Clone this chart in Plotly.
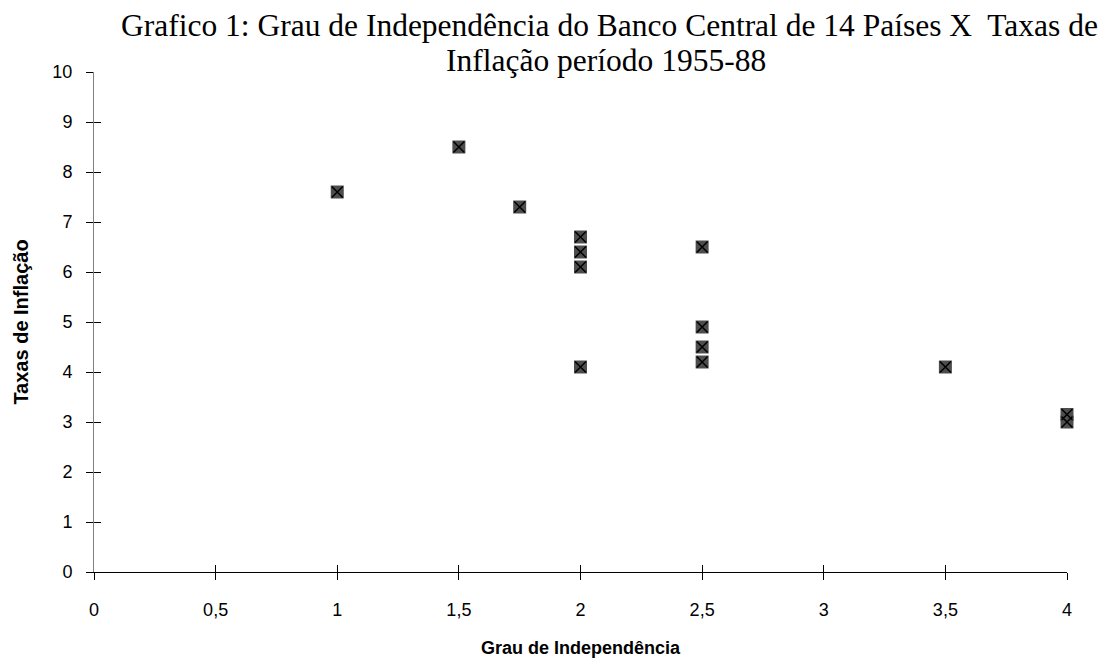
import plotly.graph_objects as go

# Data
grau_independencia = [1, 1.5, 1.75, 2, 2, 2, 2, 2.5, 2.5, 2.5, 2.5, 3.5, 4, 4]
taxas_inflacao = [7.6, 8.5, 7.3, 6.7, 6.4, 6.1, 4.1, 6.5, 4.9, 4.5, 4.2, 4.1, 3.15, 3.0]

x_ticks = [0, 0.5, 1, 1.5, 2, 2.5, 3, 3.5, 4]
x_tick_labels = ["0", "0,5", "1", "1,5", "2", "2,5", "3", "3,5", "4"]
y_ticks = list(range(0, 11))
y_tick_labels = [str(v) for v in y_ticks]

title_line1 = "Grafico 1: Grau de Independência do Banco Central de 14 Países X  Taxas de"
title_line2 = "Inflação período 1955-88"

fig = go.Figure()
fig.add_trace(go.Scatter(
    x=grau_independencia, y=taxas_inflacao, mode="markers",
    marker=dict(symbol="square", size=13, color="#4d4d4d", line=dict(width=0)),
    cliponaxis=False, showlegend=False, hoverinfo="skip"))
fig.add_trace(go.Scatter(
    x=grau_independencia, y=taxas_inflacao, mode="markers",
    marker=dict(symbol="x-thin", size=11, color="black", line=dict(width=1.5, color="black")),
    cliponaxis=False, showlegend=False))

axis_font = dict(family="Liberation Sans, Arial", size=18, color="black")
title_font = dict(family="Liberation Serif, Times New Roman", size=31.5, color="black")

# page body has an 8px margin, so the figure is laid out 8px smaller
fig.update_layout(
    width=1111, height=650,
    paper_bgcolor="white", plot_bgcolor="white",
    margin=dict(l=86, r=52, t=64, b=86),
    xaxis=dict(range=[0, 4], tickvals=x_ticks, ticktext=x_tick_labels, automargin=False,
               showgrid=False, zeroline=False, showline=True, linecolor="black", linewidth=1,
               ticks="outside", ticklen=7, tickcolor="black", tickwidth=1,
               ticklabelstandoff=14, tickfont=axis_font,
               title=dict(text="<b>Grau de Independência</b>", standoff=22,
                          font=dict(family="Liberation Sans, Arial", size=18, color="black"))),
    yaxis=dict(range=[0, 10], tickvals=y_ticks, ticktext=y_tick_labels, automargin=False,
               showgrid=False, zeroline=False, showline=True, linecolor="#808080", linewidth=1,
               ticks="outside", ticklen=7, tickcolor="black", tickwidth=1,
               ticklabelstandoff=10, tickfont=axis_font,
               title=dict(text="<b>Taxas de Inflação</b>", standoff=18,
                          font=dict(family="Liberation Sans, Arial", size=20, color="black"))),
    xaxis2=dict(overlaying="x", matches="x", range=[0, 4], tickvals=x_ticks, automargin=False,
                showticklabels=False, showgrid=False, zeroline=False, showline=False,
                ticks="inside", ticklen=7, tickcolor="black", side="bottom", anchor="y"),
    yaxis2=dict(overlaying="y", matches="y", range=[0, 10], tickvals=y_ticks, automargin=False,
                showticklabels=False, showgrid=False, zeroline=False, showline=False,
                ticks="inside", ticklen=7, tickcolor="black", side="left", anchor="x"),
    annotations=[
        dict(text=title_line1, xref="paper", yref="paper", x=(609 - 94) / 973,
             y=1 + (72 - 26) / 500, xanchor="center", yanchor="middle",
             showarrow=False, font=title_font),
        dict(text=title_line2, xref="paper", yref="paper", x=(606 - 94) / 973,
             y=1 + (72 - 61) / 500, xanchor="center", yanchor="middle",
             showarrow=False, font=title_font),
    ],
)
fig.add_trace(go.Scatter(x=[None], y=[None], xaxis="x2", yaxis="y2", showlegend=False))

fig.write_html("out.html")
